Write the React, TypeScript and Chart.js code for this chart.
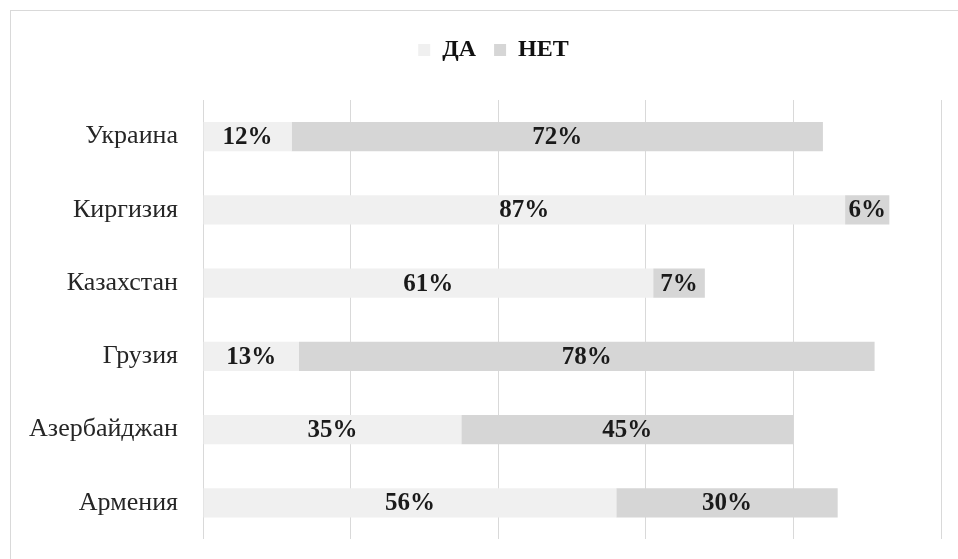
import React, { useEffect, useRef } from "react";
import { Chart, registerables } from "chart.js";

Chart.register(...registerables);

const categories = ["Украина", "Киргизия", "Казахстан", "Грузия", "Азербайджан", "Армения"];
const daValues = [12, 87, 61, 13, 35, 56];
const netValues = [72, 6, 7, 78, 45, 30];
const seriesNames = ["ДА", "НЕТ"];

const FONT = "'Liberation Serif', 'Times New Roman', serif";

export default function App() {
  const canvasRef = useRef<HTMLCanvasElement | null>(null);

  useEffect(() => {
    if (!canvasRef.current) return;

    const legendTweak = {
      id: "legendTweak",
      beforeInit(chart: any) {
        const legend = chart.legend;
        if (!legend) return;
        const origFit = legend.fit;
        legend.fit = function () {
          origFit.call(this);
          this.height = 80;
        };
        const origDraw = legend.draw;
        legend.draw = function (...args: any[]) {
          const ctx = this.ctx;
          ctx.save();
          ctx.translate(23, 0);
          origDraw.apply(this, args);
          ctx.restore();
        };
      },
    };

    const dataLabels = {
      id: "dataLabels",
      afterDatasetsDraw(chart: any) {
        const ctx = chart.ctx;
        ctx.save();
        ctx.font = `bold 25px ${FONT}`;
        ctx.fillStyle = "#1a1a1a";
        ctx.textAlign = "center";
        ctx.textBaseline = "middle";
        chart.data.datasets.forEach((ds: any, di: number) => {
          const meta = chart.getDatasetMeta(di);
          meta.data.forEach((el: any, i: number) => {
            const v = ds.data[i];
            const cx = (el.x + el.base) / 2;
            ctx.fillText(`${v}%`, cx, el.y + 1);
          });
        });
        ctx.restore();
      },
    };

    const chart = new Chart(canvasRef.current, {
      type: "bar",
      data: {
        labels: categories,
        datasets: [
          {
            label: seriesNames[0],
            data: daValues,
            backgroundColor: "#f0f0f0",
            borderWidth: 0,
            barPercentage: 0.4,
            categoryPercentage: 1,
          },
          {
            label: seriesNames[1],
            data: netValues,
            backgroundColor: "#d6d6d6",
            borderWidth: 0,
            barPercentage: 0.4,
            categoryPercentage: 1,
          },
        ],
      },
      options: {
        indexAxis: "y",
        animation: false,
        responsive: true,
        maintainAspectRatio: false,
        layout: { padding: { top: 20, right: 17, left: 0, bottom: 0 } },
        plugins: {
          legend: {
            position: "top",
            labels: {
              boxWidth: 12,
              boxHeight: 12,
              padding: 18,
              color: "#111",
              font: { family: FONT, size: 24, weight: "bold" },
            },
          },
          tooltip: { enabled: false },
        },
        scales: {
          x: {
            stacked: true,
            min: 0,
            max: 100,
            ticks: { display: false, stepSize: 20 },
            grid: { color: "#d9d9d9", lineWidth: 1, drawTicks: false },
            border: { display: false },
            afterFit(scale: any) {
              scale.height = 0;
            },
          },
          y: {
            stacked: true,
            ticks: {
              color: "#262626",
              padding: 17,
              font: { family: FONT, size: 26 },
            },
            grid: { display: false },
            border: { display: false },
            afterFit(scale: any) {
              scale.width = 203;
            },
          },
        },
      },
      plugins: [legendTweak, dataLabels],
    });

    return () => chart.destroy();
  }, []);

  return (
    <div
      style={{
        position: "fixed",
        left: 0,
        top: 0,
        width: 958,
        height: 559,
        overflow: "hidden",
        background: "#fff",
      }}
    >
      <div
        style={{
          position: "absolute",
          left: 10,
          top: 10,
          width: 980,
          height: 600,
          border: "1px solid #d9d9d9",
          boxSizing: "border-box",
        }}
      />
      <div style={{ position: "absolute", left: 0, top: 0, width: 958, height: 572 }}>
        <canvas ref={canvasRef} />
      </div>
    </div>
  );
}
